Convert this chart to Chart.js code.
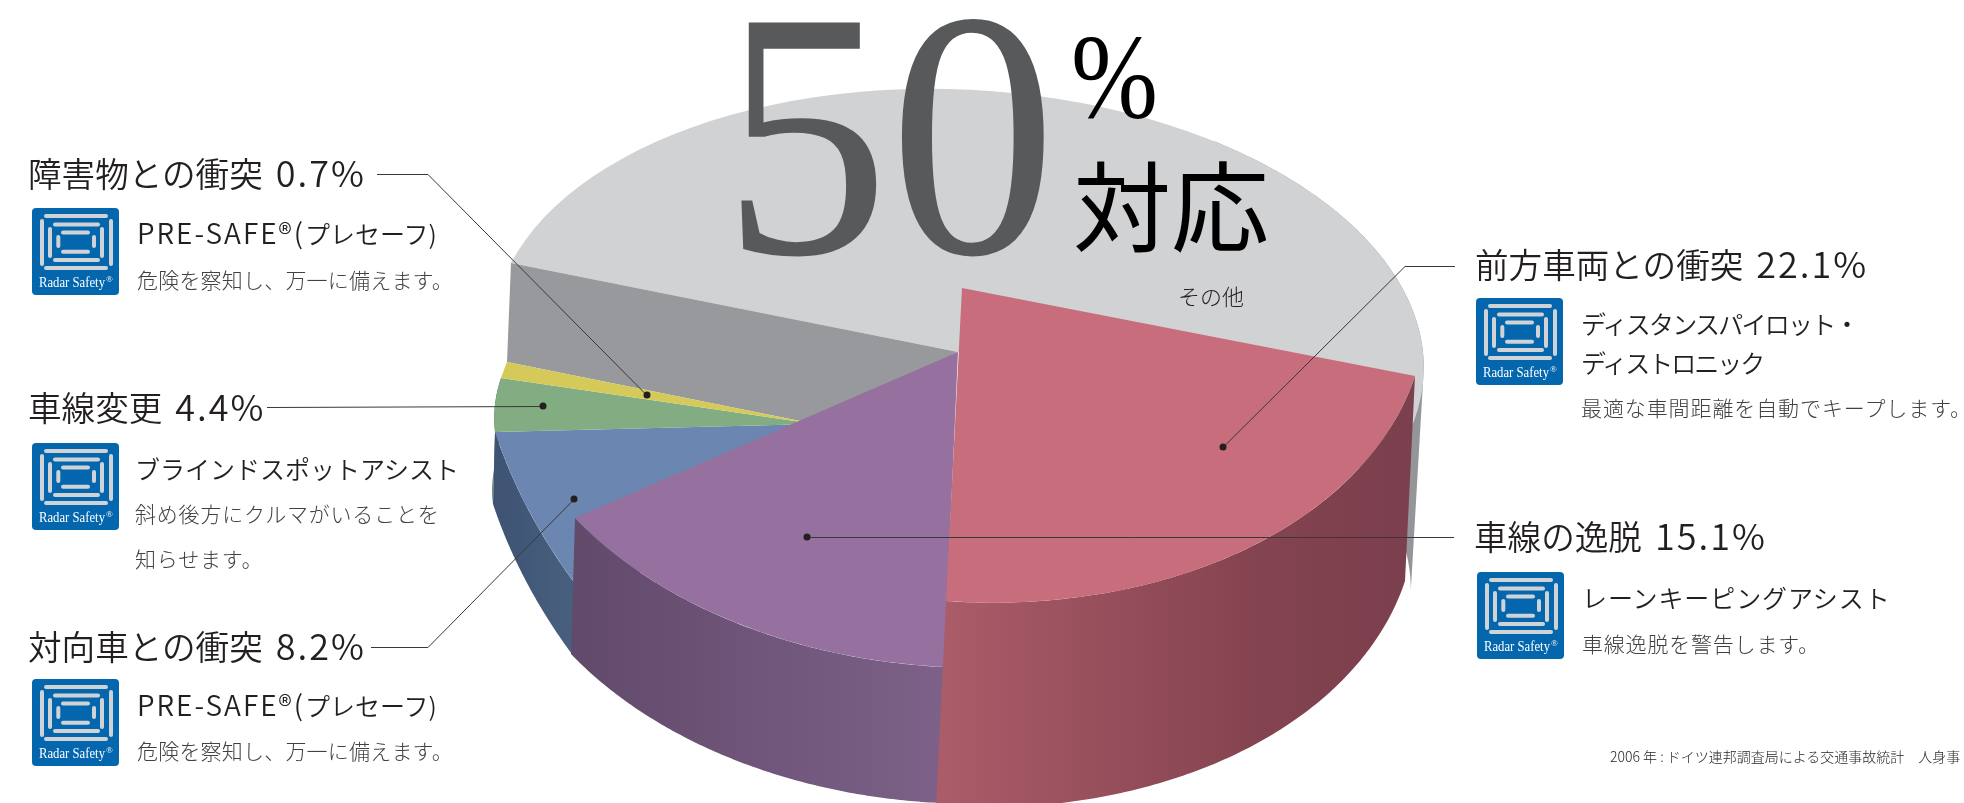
<!DOCTYPE html>
<html lang="ja">
<head>
<meta charset="UTF-8">
<title>50%対応</title>
<script src="https://cdn.jsdelivr.net/npm/chart.js"></script>
<style>
  html, body { margin: 0; padding: 0; background: #fff; overflow: hidden; }
  #page { position: relative; width: 1964px; height: 803px; overflow: hidden; font-family: "Noto Sans CJK JP", "Noto Sans", sans-serif; color: #231f20; }
  #pie { position: absolute; left: 0; top: 0; }
  .t { position: absolute; line-height: 1; white-space: nowrap; transform: translateY(-50%); }
  .head { font-size: 33.6px; font-weight: 350; }
  .head span { margin-left: 3px; letter-spacing: 2px; font-size: 36px; }
  .sub { font-size: 25px; font-weight: 350; }
  .sub span { letter-spacing: 2px; font-size: 28px; }
  .desc { font-size: 21px; font-weight: 300; color: #414042; }
  .icon { position: absolute; width: 87px; height: 87px; }
</style>
</head>
<body>
<div id="page">
  <canvas id="pie" width="1964" height="803"></canvas>
</div>
<script>
// values (その他 is the remainder to 100)
const categories = ['前方車両との衝突', '車線の逸脱', '対向車との衝突', '車線変更', '障害物との衝突', 'その他'];
const shares = [22.1, 15.1, 8.2, 4.4, 0.7, 49.5];
const functions = [
  ['ディスタンスパイロット・', 'ディストロニック'],
  ['レーンキーピングアシスト'],
  ['PRE-SAFE®(プレセーフ)'],
  ['ブラインドスポットアシスト'],
  ['PRE-SAFE®(プレセーフ)']
];
const notes = [
  ['最適な車間距離を自動でキープします。'],
  ['車線逸脱を警告します。'],
  ['危険を察知し、万一に備えます。'],
  ['斜め後方にクルマがいることを', '知らせます。'],
  ['危険を察知し、万一に備えます。']
];
const topColors = ['#c76d7c', '#96709f', '#6b86b0', '#82ac81', '#d5c95a', '#d1d2d4'];
const wallColors = [
  ['#aa5c68', '#974f5c', '#844350', '#7b3f4d'],
  ['#624a6b', '#7d6188'],
  ['#3f5373', '#48607f'],
  ['#4d7356', '#4d7356'],
  null,
  ['#98999c', '#939598']
];

// Where each slice lands on the page: tip of the wedge and two rim points, at fractions t of its sweep
const placement = [
  { tip: [962, 288], p0: [1415, 376], t0: 0, p1: [946, 601], t1: 1, drop: [-10, 205], wall: [0, 1] },
  { tip: [958, 352], p0: [944, 667], t0: 0, p1: [575, 518], t1: 1, drop: [-4, 136], wall: [0, 1] },
  { tip: [815, 424], p0: [596, 610], t0: 0, p1: [495, 432], t1: 1, drop: [-2, 72], wall: [0.15, 1] },
  { tip: [815, 424], p0: [495, 432], t0: 0, p1: [501, 378], t1: 1, drop: [-2, 72], wall: [0, 1] },
  { tip: [815, 424], p0: [501, 378], t0: 0, p1: [507, 362], t1: 1, drop: null, wall: null },
  { tip: [958, 352], p0: [511, 263], t0: 0, p1: [1082, 103], t1: 0.5, drop: [-13, 222], wall: [0.6, 0.919] }
];
const cutFaceColor = '#98999c';

// Leader lines: label end, optional elbow, dot on the slice
const leaders = [
  [[1455, 266], [1405, 266], [1223, 447]],
  [[1454, 537], [807, 537]],
  [[371, 647], [428, 647], [574, 499]],
  [[267, 407], [543, 406]],
  [[377, 174], [428, 174], [647, 395]]
];

// Text blocks: heading x/y, icon x/y, text x, y of function lines and note lines, and their tracking
const blocks = [
  { hx: 1475, hy: 262, ix: 1476, iy: 298, tx: 1581, sy: [323, 362], st: [-1.75, -2], ny: [407], nt: 0.9 },
  { hx: 1474, hy: 534, ix: 1477, iy: 572, tx: 1582, sy: [597], st: [0.9], ny: [643], nt: 0.8 },
  { hx: 28, hy: 644, ix: 32, iy: 679, tx: 137, sy: [704], st: [0], ny: [750], nt: 0.2 },
  { hx: 28, hy: 405, ix: 32, iy: 443, tx: 135, sy: [468], st: [0], ny: [513, 558], nt: 0.8 },
  { hx: 28, hy: 171, ix: 32, iy: 208, tx: 137, sy: [232], st: [0], ny: [279], nt: 0.2 }
];

const page = document.getElementById('page');

const addText = (cls, text, x, y, extra) => {
  const el = document.createElement('div');
  el.className = 't ' + cls;
  el.textContent = text;
  el.style.left = x + 'px';
  el.style.top = y + 'px';
  if (extra) el.style.cssText += extra;
  page.appendChild(el);
  return el;
};

// Radar Safety badge
const bars = [
  [12, 6, 64, 4], [12, 58, 64, 4], [8, 11, 4, 47], [77, 11, 4, 47],
  [21, 14.5, 47, 4], [21, 50, 47, 4], [16, 19, 4, 31], [68, 19, 4, 31],
  [29, 22.5, 29, 4], [29, 41.7, 29, 4], [24.3, 27, 4, 13], [60, 27, 4, 13]
];
const addIcon = (x, y) => {
  const rects = bars.map(b => `<rect x="${b[0]}" y="${b[1]}" width="${b[2]}" height="${b[3]}" rx="2" fill="#cfd3d6"/>`).join('');
  const holder = document.createElement('div');
  holder.className = 'icon';
  holder.style.left = x + 'px';
  holder.style.top = y + 'px';
  holder.innerHTML = `<svg width="87" height="87" viewBox="0 0 87 87">
    <rect width="87" height="87" rx="4" fill="#0467ae"/>${rects}
    <text x="7" y="79" font-family="Liberation Serif" font-size="15" fill="#fff" textLength="66" lengthAdjust="spacingAndGlyphs">Radar Safety</text>
    <text x="74" y="74" font-family="Liberation Serif" font-size="9" fill="#fff">®</text>
  </svg>`;
  page.appendChild(holder);
};

// Latin part of a function name runs wider than the kana after it
const addFunction = (line, x, y, track) => {
  const el = addText('sub', '', x, y, `letter-spacing:${track}px;`);
  const cut = line.indexOf('(') + 1;
  if (cut) {
    const latin = document.createElement('span');
    latin.textContent = line.slice(0, cut);
    el.appendChild(latin);
  }
  el.appendChild(document.createTextNode(line.slice(cut)));
};

blocks.forEach((b, i) => {
  const head = addText('head', categories[i], b.hx, b.hy);
  const pct = document.createElement('span');
  pct.textContent = ` ${shares[i].toFixed(1)}%`;
  head.appendChild(pct);
  addIcon(b.ix, b.iy);
  functions[i].forEach((line, k) => addFunction(line, b.tx, b.sy[k], b.st[k]));
  notes[i].forEach((line, k) => addText('desc', line, b.tx, b.ny[k], `letter-spacing:${b.nt}px;`));
});

addText('', categories[5], 1178, 295, 'font-size:22px;font-weight:300;');
addText('', '50', 722, 134, 'font-family:"Liberation Serif";font-size:352px;color:#58595b;transform:translateY(-50%) scaleX(0.95);transform-origin:0 50%;');
addText('', '%', 1071, 77, 'font-family:"Liberation Serif";font-size:120px;color:#000;transform:translateY(-50%) scaleX(0.87);transform-origin:0 50%;');
addText('', '対応', 1073, 201, 'font-size:98px;color:#000;');
addText('', '2006 年 : ドイツ連邦調査局による交通事故統計　人身事', 1610, 756, 'font-size:14px;font-weight:300;color:#231f20;');

// Affine map that sends the library's round arc onto its place on the page
const sliceMap = (arc, place) => {
  const sweep = arc.endAngle - arc.startAngle;
  const th0 = arc.startAngle + place.t0 * sweep;
  const th1 = arc.startAngle + place.t1 * sweep;
  const det = Math.cos(th0) * Math.sin(th1) - Math.sin(th0) * Math.cos(th1);
  const dx0 = place.p0[0] - place.tip[0], dy0 = place.p0[1] - place.tip[1];
  const dx1 = place.p1[0] - place.tip[0], dy1 = place.p1[1] - place.tip[1];
  const ux = (dx0 * Math.sin(th1) - dx1 * Math.sin(th0)) / det;
  const uy = (dy0 * Math.sin(th1) - dy1 * Math.sin(th0)) / det;
  const vx = (dx1 * Math.cos(th0) - dx0 * Math.cos(th1)) / det;
  const vy = (dy1 * Math.cos(th0) - dy0 * Math.cos(th1)) / det;
  return {
    at: angle => [place.tip[0] + Math.cos(angle) * ux + Math.sin(angle) * vx,
                  place.tip[1] + Math.cos(angle) * uy + Math.sin(angle) * vy],
    matrix: r => {
      const a = ux / r, b = uy / r, c = vx / r, d = vy / r;
      return [a, b, c, d, place.tip[0] - a * arc.x - c * arc.y, place.tip[1] - b * arc.x - d * arc.y];
    }
  };
};

const drawWall = (ctx, arc, place, colors) => {
  if (!place.wall) return;
  const map = sliceMap(arc, place);
  const sweep = arc.endAngle - arc.startAngle;
  const rim = [];
  for (let i = 0; i <= 120; i++) {
    const t = place.wall[0] + (place.wall[1] - place.wall[0]) * i / 120;
    rim.push(map.at(arc.startAngle + t * sweep));
  }
  const xs = rim.map(p => p[0]);
  const grad = ctx.createLinearGradient(Math.min(...xs), 0, Math.max(...xs), 0);
  colors.forEach((c, i) => grad.addColorStop(i / (colors.length - 1), c));
  ctx.fillStyle = grad;
  ctx.beginPath();
  rim.forEach((p, i) => i ? ctx.lineTo(p[0], p[1]) : ctx.moveTo(p[0], p[1]));
  rim.slice().reverse().forEach(p => ctx.lineTo(p[0] + place.drop[0], p[1] + place.drop[1]));
  ctx.closePath();
  ctx.fill();
};

const drawTop = (ctx, arc, place) => {
  const m = sliceMap(arc, place).matrix(arc.outerRadius);
  ctx.save();
  ctx.transform(m[0], m[1], m[2], m[3], m[4], m[5]);
  arc.draw(ctx);
  ctx.restore();
};

const piePlugin = {
  id: 'slab',
  beforeDatasetDraw(chart) {
    const ctx = chart.ctx;
    const arcs = chart.getDatasetMeta(0).data;
    const rest = 5, obstacle = 4;

    // grey slice and the cut face it shows where the low slices sit
    drawWall(ctx, arcs[rest], placement[rest], wallColors[rest]);
    drawTop(ctx, arcs[rest], placement[rest]);
    const restMap = sliceMap(arcs[rest], placement[rest]);
    const lowMap = sliceMap(arcs[obstacle], placement[obstacle]);
    const a = restMap.at(arcs[rest].startAngle);
    const b = lowMap.at(arcs[obstacle].endAngle);
    ctx.fillStyle = cutFaceColor;
    ctx.beginPath();
    ctx.moveTo(a[0], a[1]);
    ctx.lineTo(placement[rest].tip[0], placement[rest].tip[1]);
    ctx.lineTo(placement[obstacle].tip[0], placement[obstacle].tip[1]);
    ctx.lineTo(b[0], b[1]);
    ctx.closePath();
    ctx.fill();

    // back to front
    [3, 2].forEach(i => drawWall(ctx, arcs[i], placement[i], wallColors[i]));
    [2, 3, 4].forEach(i => drawTop(ctx, arcs[i], placement[i]));
    [1, 0].forEach(i => {
      drawWall(ctx, arcs[i], placement[i], wallColors[i]);
      drawTop(ctx, arcs[i], placement[i]);
    });
    return false;
  },
  afterDraw(chart) {
    const ctx = chart.ctx;
    ctx.save();
    ctx.strokeStyle = '#3a3738';
    ctx.fillStyle = '#231f20';
    ctx.lineWidth = 1;
    leaders.forEach(pts => {
      ctx.beginPath();
      pts.forEach((p, i) => i ? ctx.lineTo(p[0], p[1] + 0.5) : ctx.moveTo(p[0], p[1] + 0.5));
      ctx.stroke();
      const end = pts[pts.length - 1];
      ctx.beginPath();
      ctx.arc(end[0], end[1], 3.5, 0, Math.PI * 2);
      ctx.fill();
    });
    ctx.restore();
  }
};

new Chart(document.getElementById('pie'), {
  type: 'pie',
  data: {
    labels: categories,
    datasets: [{ data: shares, backgroundColor: topColors, borderWidth: 0 }]
  },
  options: {
    responsive: false,
    animation: false,
    events: [],
    plugins: { legend: { display: false }, tooltip: { enabled: false } }
  },
  plugins: [piePlugin]
});
</script>
</body>
</html>
